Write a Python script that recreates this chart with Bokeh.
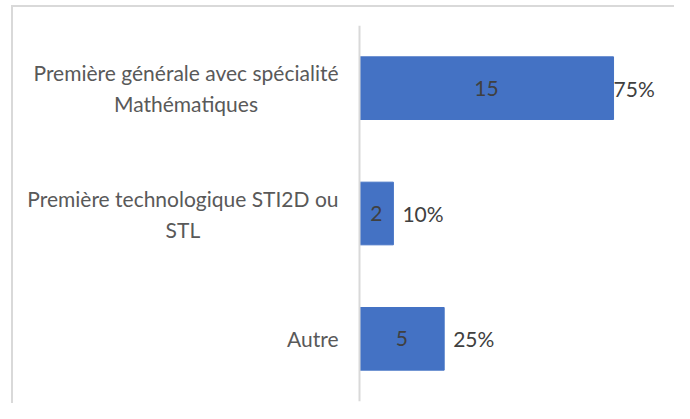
from bokeh.plotting import figure
from bokeh.models import ColumnDataSource, FactorRange, Range1d, Span
from bokeh.core.properties import value
from bokeh.embed import file_html
from bokeh.resources import INLINE

categories = ["Première générale avec spécialité\nMathématiques",
              "Première technologique STI2D ou\nSTL",
              "Autre"]
counts = [15, 2, 5]
percents = ["75%", "10%", "25%"]

FONT = "Lato"
FS = 21

p = figure(y_range=FactorRange(*reversed(categories), range_padding=0),
           x_range=Range1d(-20.55, 18.60),
           width=663, height=398, output_backend="svg", toolbar_location=None,
           min_border_left=0, min_border_right=0, min_border_top=20, min_border_bottom=2)
p.axis.visible = False
p.grid.visible = False
p.outline_line_color = None
p.background_fill_color = None
p.border_fill_color = None
p.styles = {"margin-left": "11px", "margin-top": "5px",
            "box-shadow": "inset 2px 2px 0 0 #d9d9d9"}

src = ColumnDataSource(dict(cat=categories, n=counts, half=[c / 2 for c in counts],
                            lbl=[str(c) for c in counts], pct=percents,
                            off=[0 if c == max(counts) else 9 for c in counts]))

p.hbar(y="cat", right="n", left=0, height=0.5, source=src,
       fill_color="#4472C4", line_color="#4472C4")

p.add_layout(Span(location=0, dimension="height", line_color="#d9d9d9", line_width=2))

p.text(x=0, y="cat", text="cat", source=src, x_offset=-21,
       anchor="center_right", text_align="center", text_baseline="middle",
       text_font=value(FONT), text_font_size=f"{FS}px", text_color="#595959",
       text_line_height=1.24)

p.text(x="half", y="cat", text="lbl", source=src,
       text_align="center", text_baseline="middle",
       text_font=value(FONT), text_font_size=f"{FS}px", text_color="#404040")

p.text(x="n", y="cat", text="pct", source=src, x_offset="off",
       text_align="left", text_baseline="middle",
       text_font=value(FONT), text_font_size=f"{FS}px", text_color="#404040")

open("out.html", "w").write(file_html(p, INLINE))
